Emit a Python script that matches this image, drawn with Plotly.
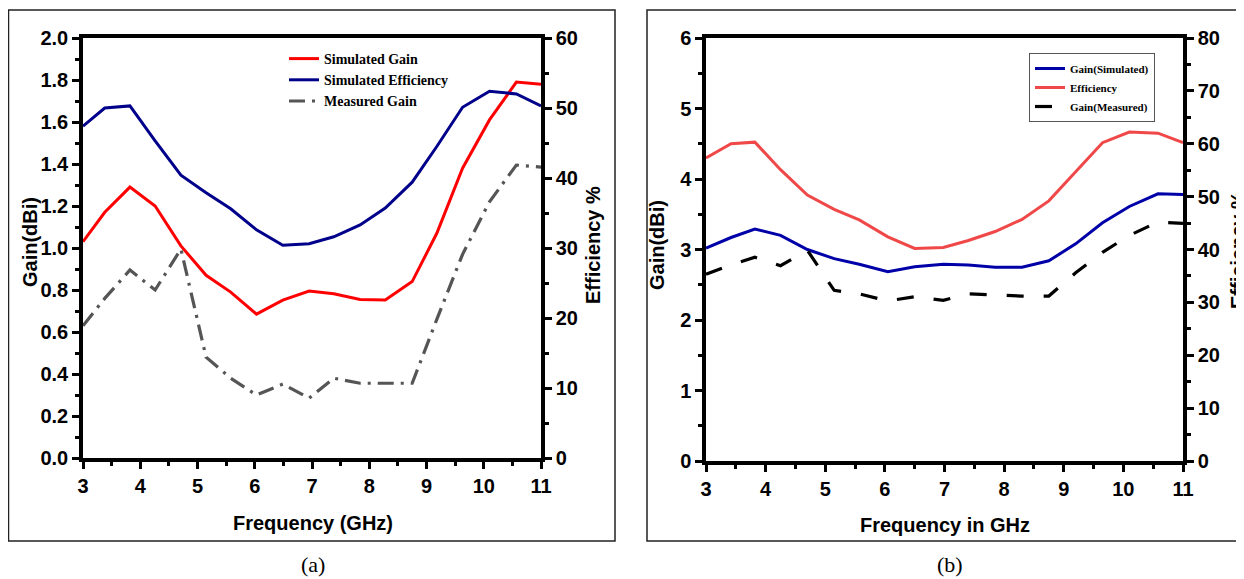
import plotly.graph_objects as go

# The page body adds an 8px margin, so the figure is shrunk by that and
# every reference pixel position is shifted accordingly.
OFF = 8
W, H = 1244 - OFF, 579 - OFF

# ---------------- data: panel (a) ----------------
freq_a = [3.0, 3.38, 3.82, 4.26, 4.71, 5.15, 5.58, 6.03, 6.49, 6.95,
          7.38, 7.84, 8.28, 8.75, 9.18, 9.63, 10.1, 10.57, 11.0]
sim_gain_a = [1.03, 1.17, 1.29, 1.20, 1.01, 0.87, 0.79, 0.685, 0.752, 0.795,
              0.782, 0.755, 0.752, 0.84, 1.07, 1.38, 1.61, 1.79, 1.78]
sim_eff_a = [47.4, 50.0, 50.3, 45.3, 40.4, 37.9, 35.6, 32.6, 30.4, 30.6,
             31.6, 33.3, 35.7, 39.4, 44.5, 50.1, 52.4, 52.0, 50.3]
meas_gain_a = [0.63, 0.76, 0.895, 0.80, 0.995, 0.48, 0.38, 0.30, 0.352, 0.285,
               0.38, 0.356, 0.356, 0.356, 0.66, 0.97, 1.22, 1.395, 1.385]

# ---------------- data: panel (b) ----------------
freq_b = [3.0, 3.42, 3.82, 4.25, 4.7, 5.15, 5.57, 6.05, 6.5, 6.98,
          7.4, 7.85, 8.3, 8.75, 9.2, 9.65, 10.1, 10.58, 11.0]
sim_gain_b = [3.02, 3.17, 3.29, 3.20, 3.00, 2.87, 2.79, 2.685, 2.755, 2.79,
              2.78, 2.75, 2.75, 2.84, 3.08, 3.38, 3.61, 3.79, 3.78]
eff_b = [57.3, 60.0, 60.3, 55.1, 50.3, 47.6, 45.6, 42.4, 40.2, 40.4,
         41.7, 43.4, 45.7, 49.2, 54.7, 60.2, 62.2, 62.0, 60.2]
meas_gain_b = [2.65, 2.78, 2.89, 2.77, 2.99, 2.42, 2.37, 2.27, 2.33, 2.28,
               2.37, 2.35, 2.34, 2.34, 2.67, 2.96, 3.20, 3.39, 3.37]

# tick settings
x_ticks = [3, 4, 5, 6, 7, 8, 9, 10, 11]

TICKFONT = dict(family="Liberation Sans, Arial, sans-serif", size=20, color="black", weight="bold")
TITLEFONT = dict(family="Liberation Sans, Arial, sans-serif", size=20, color="black", weight="bold")


def px_x(p):
    return (p - OFF) / W


def px_y(p):
    return 1 - (p - OFF) / H


fig = go.Figure()

# panel (a)
fig.add_trace(go.Scatter(x=freq_a, y=sim_gain_a, mode="lines", name="Simulated Gain",
                         line=dict(color="#ff0000", width=3), xaxis="x", yaxis="y", legend="legend"))
fig.add_trace(go.Scatter(x=freq_a, y=sim_eff_a, mode="lines", name="Simulated Efficiency",
                         line=dict(color="#00008b", width=3), xaxis="x", yaxis="y2", legend="legend"))
fig.add_trace(go.Scatter(x=freq_a, y=meas_gain_a, mode="lines", name="Measured Gain",
                         line=dict(color="#555555", width=3.2, dash="16px,7px,3px,7px"),
                         xaxis="x", yaxis="y", legend="legend"))

# panel (b)
fig.add_trace(go.Scatter(x=freq_b, y=sim_gain_b, mode="lines", name="Gain(Simulated)",
                         line=dict(color="#0000a8", width=3), xaxis="x2", yaxis="y3", legend="legend2"))
fig.add_trace(go.Scatter(x=freq_b, y=eff_b, mode="lines", name="Efficiency",
                         line=dict(color="#f04848", width=3), xaxis="x2", yaxis="y4", legend="legend2"))
fig.add_trace(go.Scatter(x=freq_b, y=meas_gain_b, mode="lines", name="Gain(Measured)",
                         line=dict(color="black", width=3.2, dash="17px,20px"),
                         xaxis="x2", yaxis="y3", legend="legend2"))

common = dict(showline=True, linecolor="black", linewidth=3.5, showgrid=False, zeroline=False,
              automargin=False,
              ticks="outside", ticklen=7, tickwidth=3, tickcolor="black", tickfont=TICKFONT)
top_ticks = dict(side="top", ticks="inside", ticklen=7, tickwidth=3, tickcolor="black",
                 showticklabels=False, showline=False, showgrid=False, zeroline=False,
                 automargin=False,
                 minor=dict(dtick=0.5, ticks="inside", ticklen=4, tickwidth=2.5, tickcolor="black"))

xa_dom = [px_x(83), px_x(541)]
ya_dom = [px_y(458), px_y(38)]
xb_dom = [px_x(706), px_x(1183)]
yb_dom = [px_y(461), px_y(38)]

fig.update_layout(
    width=W, height=H, autosize=False,
    margin=dict(l=0, r=0, t=0, b=0, pad=0),
    paper_bgcolor="white", plot_bgcolor="white",
    xaxis=dict(domain=xa_dom, anchor="y", range=[3, 11], tickvals=x_ticks, mirror=True,
               minor=dict(dtick=0.5, ticks="outside", ticklen=4, tickwidth=2.5, tickcolor="black"),
               **common),
    yaxis=dict(domain=ya_dom, anchor="x", range=[0, 2], dtick=0.2, tickformat=".1f", mirror=True,
               minor=dict(dtick=0.1, ticks="outside", ticklen=4, tickwidth=2.5, tickcolor="black"),
               **common),
    yaxis2=dict(overlaying="y", side="right", anchor="x", range=[0, 60], dtick=10,
                minor=dict(dtick=5, ticks="outside", ticklen=4, tickwidth=2.5, tickcolor="black"),
                **common),
    xaxis3=dict(overlaying="x", anchor="y", range=[3, 11], tickvals=x_ticks, **top_ticks),
    xaxis2=dict(domain=xb_dom, anchor="y3", range=[3, 11], tickvals=x_ticks, mirror=True,
                minor=dict(dtick=0.5, ticks="outside", ticklen=4, tickwidth=2.5, tickcolor="black"),
                **common),
    yaxis3=dict(domain=yb_dom, anchor="x2", range=[0, 6], dtick=1, mirror=True,
                minor=dict(dtick=0.5, ticks="outside", ticklen=4, tickwidth=2.5, tickcolor="black"),
                **common),
    yaxis4=dict(overlaying="y3", side="right", anchor="x2", range=[0, 80], dtick=10,
                minor=dict(dtick=5, ticks="outside", ticklen=4, tickwidth=2.5, tickcolor="black"),
                **common),
    xaxis4=dict(overlaying="x2", anchor="y3", range=[3, 11], tickvals=x_ticks, **top_ticks),
    legend=dict(x=px_x(284), y=px_y(43), xanchor="left", yanchor="top",
                bgcolor="rgba(0,0,0,0)", borderwidth=0,
                font=dict(family="Liberation Serif, Times New Roman, serif", size=14,
                          color="black", weight="bold"),
                tracegroupgap=0),
    legend2=dict(x=px_x(1029), y=px_y(53), xanchor="left", yanchor="top",
                 bgcolor="white", bordercolor="#555555", borderwidth=1,
                 font=dict(family="Liberation Serif, Times New Roman, serif", size=11,
                           color="black", weight="bold"),
                 tracegroupgap=0),
    showlegend=True,
)

# panel frames
fig.add_shape(type="rect", xref="paper", yref="paper",
              x0=0.5 / W, x1=px_x(615), y0=px_y(541), y1=px_y(10),
              line=dict(color="#222222", width=1.5), fillcolor="rgba(0,0,0,0)", layer="below")
fig.add_shape(type="rect", xref="paper", yref="paper",
              x0=px_x(647), x1=px_x(1256), y0=px_y(541), y1=px_y(10),
              line=dict(color="#222222", width=1.5), fillcolor="rgba(0,0,0,0)", layer="below")

annots = [
    dict(text="Gain(dBi)", x=px_x(30), y=px_y(242), textangle=-90, font=TITLEFONT),
    dict(text="Efficiency %", x=px_x(593), y=px_y(245), textangle=-90, font=TITLEFONT),
    dict(text="Frequency (GHz)", x=px_x(313), y=px_y(523), font=TITLEFONT),
    dict(text="Gain(dBi)", x=px_x(657), y=px_y(245), textangle=-90, font=TITLEFONT),
    dict(text="Efficiency %", x=px_x(1238), y=px_y(250), textangle=-90, font=TITLEFONT),
    dict(text="Frequency in GHz", x=px_x(945), y=px_y(525), font=TITLEFONT),
    dict(text="(a)", x=px_x(313), y=px_y(564),
         font=dict(family="Liberation Serif, serif", size=22, color="black")),
    dict(text="(b)", x=px_x(950), y=px_y(564),
         font=dict(family="Liberation Serif, serif", size=22, color="black")),
]
for a in annots:
    fig.add_annotation(xref="paper", yref="paper", showarrow=False,
                       xanchor="center", yanchor="middle", **a)

fig.write_html("out.html")
